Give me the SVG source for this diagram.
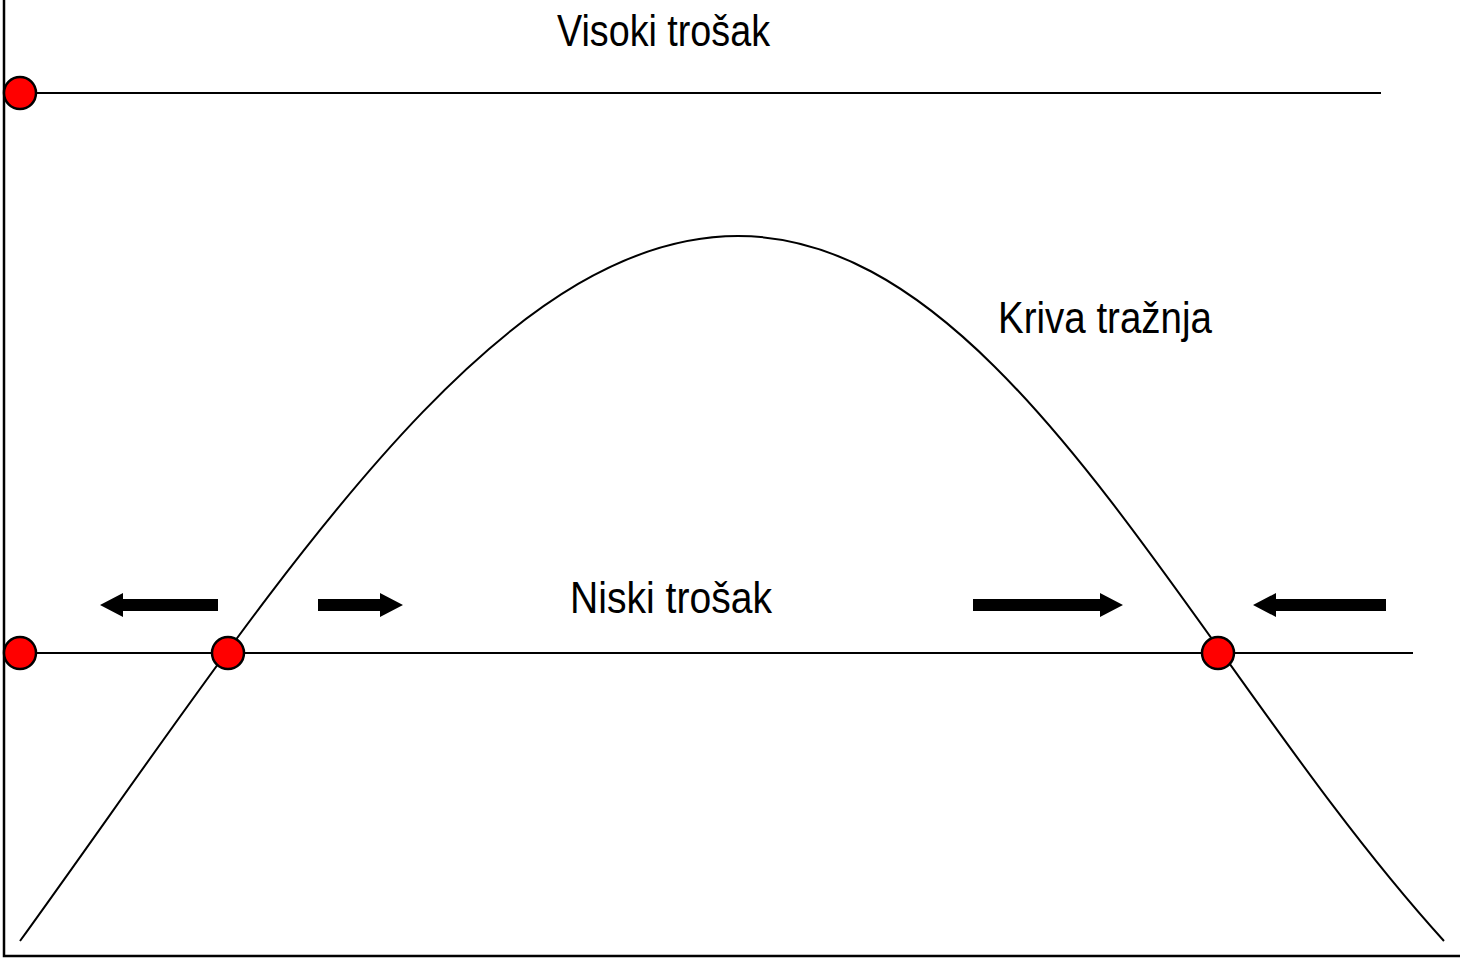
<svg xmlns="http://www.w3.org/2000/svg" width="1460" height="958" viewBox="0 0 1460 958">
<style>
.ln{stroke:#000;stroke-width:2;fill:none}
.ax{stroke:#000;stroke-width:2.5;fill:none}
.dot{fill:#ff0000;stroke:#000;stroke-width:2.5}
.arr{fill:#000}
.t{font-family:"Liberation Sans",Arial,sans-serif;font-size:45px;fill:#000}
</style>
<rect width="1460" height="958" fill="#fff"/>
<g id="axes">
<path class="ax" d="M4,0 V956 H1460"/>
</g>
<g id="connectors">
<line class="ln" x1="20" y1="93" x2="1381" y2="93"/>
<line class="ln" x1="20" y1="653" x2="1413" y2="653"/>
<path class="ln" d="M20,941 C270,595 490,236 738,236 C1008,236 1194,666 1444,941"/>
<polygon class="arr" points="218,599 123,599 123,593 100,605 123,617 123,611 218,611"/>
<polygon class="arr" points="318,599 380,599 380,593 403,605 380,617 380,611 318,611"/>
<polygon class="arr" points="973,599 1100,599 1100,593 1123,605 1100,617 1100,611 973,611"/>
<polygon class="arr" points="1386,599 1276,599 1276,593 1253,605 1276,617 1276,611 1386,611"/>
</g>
<g id="high-cost">
<circle class="dot" cx="20" cy="93" r="16"/>
<text class="t" x="557" y="46" textLength="213" lengthAdjust="spacingAndGlyphs">Visoki trošak</text>
</g>
<g id="low-cost">
<circle class="dot" cx="20" cy="653" r="16"/>
<text class="t" x="570" y="613" textLength="202" lengthAdjust="spacingAndGlyphs">Niski trošak</text>
</g>
<g id="eq-left"><circle class="dot" cx="228" cy="653" r="16"/></g>
<g id="eq-right"><circle class="dot" cx="1218" cy="653" r="16"/></g>
<g id="demand-label">
<text class="t" x="998" y="333" textLength="214" lengthAdjust="spacingAndGlyphs">Kriva tražnja</text>
</g>
</svg>
